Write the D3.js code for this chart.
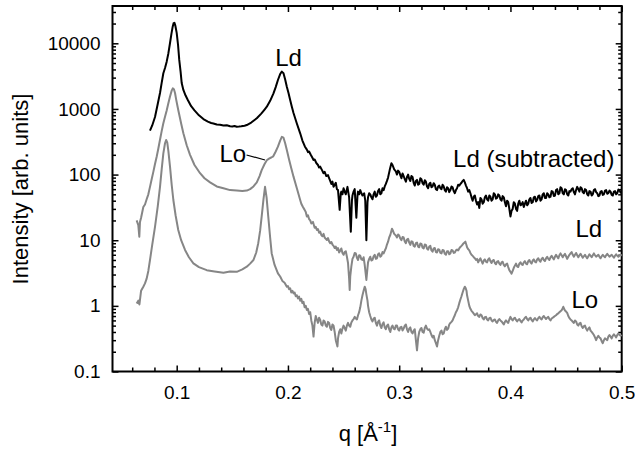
<!DOCTYPE html>
<html>
<head>
<meta charset="utf-8">
<script src="https://cdn.jsdelivr.net/npm/d3@7"></script>
<style>
  html, body { margin: 0; padding: 0; background: #fff; }
  svg { display: block; font-family: "Liberation Sans", Arial, sans-serif; }
</style>
</head>
<body>
<svg id="chart" width="635" height="456"></svg>
<script>
// ---------- data (q [1/Å], intensity) ----------
const ldSubtracted = [[0.076,466],[0.078,560],[0.0805,754],[0.083,1200],[0.085,1750],[0.0865,2500],[0.088,3500],[0.0895,4200],[0.091,5250],[0.0925,7000],[0.094,10100],[0.0953,14000],[0.0964,17900],[0.0972,20200],[0.098,20500],[0.0988,18500],[0.100,14400],[0.1012,9500],[0.1023,5580],[0.1035,3700],[0.1045,2480],[0.106,1950],[0.108,1600],[0.110,1370],[0.113,1100],[0.116,950],[0.120,800],[0.124,700],[0.128,640],[0.131,610],[0.133,600],[0.136,580],[0.139,575],[0.142,560],[0.145,565],[0.148,545],[0.150,540],[0.152,550],[0.154,536],[0.156,540],[0.158,545],[0.161,555],[0.163,569],[0.167,620],[0.170,680],[0.172,720],[0.176,850],[0.179,980],[0.181,1080],[0.184,1330],[0.187,1730],[0.189,2150],[0.191,2760],[0.193,3400],[0.1945,3700],[0.196,3500],[0.1975,2800],[0.199,2180],[0.2005,1750],[0.202,1370],[0.2035,1080],[0.205,867],[0.208,600],[0.211,425],[0.213,330],[0.2153,266],[0.217,240],[0.218,220],[0.219,225],[0.2205,200],[0.222,180],[0.223,167],[0.224,170],[0.2255,150],[0.227,140],[0.228,128],[0.229,132],[0.2305,118],[0.232,105],[0.233,110],[0.2345,95],[0.236,98],[0.237,88],[0.238,80],[0.239,72],[0.240,78],[0.241,65],[0.242,70],[0.243,75],[0.244,60],[0.245,58],[0.2465,29],[0.2475,52],[0.248,55],[0.249,50],[0.250,62],[0.251,55],[0.252,50],[0.2535,65],[0.255,45],[0.2565,13.5],[0.2575,40],[0.258,48],[0.259,55],[0.260,60],[0.2615,22],[0.2625,48],[0.263,55],[0.264,50],[0.265,58],[0.266,52],[0.267,48],[0.2685,52],[0.2695,40],[0.2705,10],[0.2715,38],[0.272,45],[0.273,52],[0.274,50],[0.275,45],[0.276,42],[0.277,50],[0.278,55],[0.279,46],[0.280,48],[0.281,56],[0.282,60],[0.283,50],[0.284,52],[0.285,62],[0.286,58],[0.287,66],[0.288,72],[0.289,80],[0.290,90],[0.2915,118],[0.293,149],[0.294,140],[0.2955,120],[0.297,112],[0.298,100],[0.299,115],[0.300,110],[0.301,98],[0.302,88],[0.303,104],[0.304,95],[0.305,85],[0.306,78],[0.307,92],[0.308,100],[0.309,86],[0.310,80],[0.311,95],[0.312,92],[0.313,75],[0.314,68],[0.315,80],[0.316,83],[0.317,70],[0.318,72],[0.319,88],[0.320,85],[0.321,74],[0.322,70],[0.323,82],[0.324,78],[0.325,66],[0.326,62],[0.327,72],[0.328,75],[0.329,64],[0.330,66],[0.331,74],[0.332,70],[0.333,60],[0.334,58],[0.335,66],[0.336,68],[0.337,62],[0.338,60],[0.339,70],[0.340,66],[0.341,58],[0.342,55],[0.343,64],[0.344,62],[0.345,54],[0.346,58],[0.347,66],[0.348,64],[0.349,56],[0.350,52],[0.351,58],[0.352,62],[0.353,70],[0.354,68],[0.355,72],[0.356,75],[0.357,80],[0.358,83],[0.359,76],[0.360,68],[0.361,62],[0.362,55],[0.363,58],[0.364,52],[0.365,45],[0.366,40],[0.367,46],[0.368,48],[0.369,40],[0.370,35],[0.371,38],[0.372,31],[0.373,44],[0.374,42],[0.375,36],[0.376,38],[0.377,45],[0.378,48],[0.379,42],[0.380,40],[0.381,48],[0.382,46],[0.383,40],[0.384,42],[0.385,52],[0.386,50],[0.387,43],[0.388,44],[0.389,50],[0.390,48],[0.391,42],[0.392,40],[0.393,47],[0.394,45],[0.395,38],[0.396,33],[0.397,40],[0.398,38],[0.399,30],[0.400,23],[0.401,28],[0.402,30],[0.403,38],[0.404,36],[0.405,30],[0.406,28],[0.407,36],[0.408,40],[0.409,34],[0.410,35],[0.411,38],[0.412,32],[0.413,36],[0.414,40],[0.415,34],[0.416,36],[0.417,42],[0.418,44],[0.419,37],[0.420,38],[0.421,45],[0.422,46],[0.423,39],[0.424,41],[0.425,47],[0.426,48],[0.427,40],[0.428,42],[0.429,50],[0.430,52],[0.431,44],[0.432,44],[0.433,52],[0.434,50],[0.435,45],[0.436,46],[0.437,56],[0.438,55],[0.439,47],[0.440,48],[0.441,58],[0.442,60],[0.443,50],[0.444,52],[0.445,64],[0.446,62],[0.447,52],[0.448,50],[0.449,60],[0.450,58],[0.451,50],[0.452,48],[0.453,56],[0.454,55],[0.455,60],[0.456,62],[0.457,54],[0.458,50],[0.459,58],[0.460,65],[0.461,60],[0.462,55],[0.463,64],[0.464,62],[0.465,54],[0.466,52],[0.467,60],[0.468,58],[0.469,50],[0.470,48],[0.471,56],[0.472,55],[0.473,48],[0.474,50],[0.475,58],[0.476,60],[0.477,54],[0.478,52],[0.479,47],[0.480,48],[0.481,55],[0.482,56],[0.483,49],[0.484,50],[0.485,57],[0.486,58],[0.487,51],[0.488,52],[0.489,57],[0.490,55],[0.491,49],[0.492,48],[0.493,55],[0.494,56],[0.495,50],[0.496,52],[0.497,59],[0.498,58],[0.499,53],[0.500,54]];

const ldRaw = [[0.064,20],[0.0655,17],[0.0664,11.3],[0.067,19],[0.068,22],[0.070,32],[0.0715,35],[0.073,42],[0.0745,50],[0.076,65],[0.0775,85],[0.079,110],[0.0805,145],[0.082,187],[0.0835,250],[0.085,340],[0.0865,460],[0.088,604],[0.0895,760],[0.091,950],[0.0925,1220],[0.094,1550],[0.0955,1900],[0.0965,2060],[0.0975,2000],[0.0985,1750],[0.0995,1400],[0.1005,1150],[0.1014,964],[0.103,720],[0.104,600],[0.106,425],[0.109,280],[0.112,200],[0.116,140],[0.121,105],[0.125,88],[0.130,76],[0.136,66],[0.142,62],[0.148,58],[0.154,57],[0.159,56],[0.163,57],[0.166,60],[0.169,66],[0.172,76],[0.1745,95],[0.1764,117],[0.179,145],[0.181,165],[0.183,175],[0.185,182],[0.1868,190],[0.189,225],[0.191,266],[0.193,330],[0.1945,375],[0.196,365],[0.1975,300],[0.199,237],[0.201,170],[0.203,125],[0.205,93],[0.208,62],[0.211,41],[0.212,36],[0.2135,32],[0.215,29],[0.216,27],[0.217,23],[0.218,24],[0.219,21],[0.220,20],[0.221,18],[0.2225,19],[0.224,15.5],[0.225,16],[0.226,14.3],[0.227,14.8],[0.228,13],[0.229,13.5],[0.230,12],[0.231,11.5],[0.232,12.5],[0.233,11],[0.234,10.5],[0.235,10.1],[0.236,10.8],[0.237,9.6],[0.238,9],[0.239,9.4],[0.240,8.6],[0.241,8.2],[0.242,7.6],[0.243,8.0],[0.244,7.1],[0.245,7.6],[0.246,6.5],[0.247,6.9],[0.248,7.5],[0.249,6.4],[0.250,6.0],[0.251,6.6],[0.252,6.8],[0.253,5.6],[0.254,4.5],[0.255,2.6],[0.2555,1.75],[0.256,2.8],[0.257,4.0],[0.258,5.2],[0.259,5.6],[0.260,6.4],[0.261,6.3],[0.262,5.4],[0.263,5.0],[0.264,5.9],[0.265,5.8],[0.266,5.1],[0.267,5.0],[0.268,5.5],[0.269,4.2],[0.2705,2.48],[0.2715,3.8],[0.272,4.6],[0.273,5.2],[0.274,5.6],[0.275,4.9],[0.276,5.0],[0.277,5.7],[0.278,6.0],[0.279,5.2],[0.280,5.3],[0.281,6.1],[0.282,6.3],[0.283,5.6],[0.284,5.8],[0.285,6.6],[0.286,6.3],[0.287,6.9],[0.288,7.5],[0.289,8.6],[0.290,9.5],[0.291,11],[0.292,12],[0.2935,15],[0.2945,13.8],[0.2955,12.5],[0.297,11.8],[0.298,11],[0.299,12.2],[0.300,11.8],[0.301,10.6],[0.302,10],[0.303,11.2],[0.304,11],[0.305,9.6],[0.306,9],[0.307,10.2],[0.308,10.5],[0.309,9.2],[0.310,8.5],[0.311,9.6],[0.312,9.5],[0.313,8.2],[0.314,8],[0.315,9.0],[0.316,9.2],[0.317,8.0],[0.318,7.8],[0.319,8.9],[0.320,8.8],[0.321,7.7],[0.322,7.5],[0.323,8.6],[0.324,8.5],[0.325,7.4],[0.326,7.2],[0.327,8.0],[0.328,8.2],[0.329,7.0],[0.330,6.7],[0.331,7.5],[0.332,7.6],[0.333,6.6],[0.334,6.5],[0.335,7.3],[0.336,7.2],[0.337,6.4],[0.338,6.3],[0.339,7.1],[0.340,7.0],[0.341,6.2],[0.342,6.0],[0.343,6.8],[0.344,6.8],[0.345,6.1],[0.346,6.3],[0.347,7.1],[0.348,7.0],[0.349,6.4],[0.350,6.5],[0.351,7.0],[0.352,7.2],[0.353,7.0],[0.354,7.5],[0.355,7.9],[0.356,8.2],[0.357,8.6],[0.358,9.0],[0.3595,9.5],[0.3605,8.4],[0.361,7.8],[0.362,7.3],[0.363,7.0],[0.364,6.4],[0.365,6.0],[0.366,5.8],[0.367,5.5],[0.368,5.3],[0.369,5.0],[0.370,5.2],[0.371,4.6],[0.372,5.0],[0.373,5.3],[0.374,4.8],[0.375,4.4],[0.376,4.9],[0.377,5.1],[0.378,4.7],[0.379,4.6],[0.380,5.1],[0.381,5.3],[0.382,4.8],[0.383,4.5],[0.384,4.9],[0.385,5.0],[0.386,4.5],[0.387,4.3],[0.388,4.7],[0.389,4.8],[0.390,4.4],[0.391,4.2],[0.392,4.6],[0.393,4.7],[0.394,4.2],[0.395,4.0],[0.396,4.3],[0.397,4.4],[0.398,3.9],[0.399,3.5],[0.400,3.3],[0.401,3.1],[0.402,3.4],[0.403,3.8],[0.404,4.1],[0.405,4.4],[0.406,4.0],[0.407,3.9],[0.408,4.4],[0.409,4.6],[0.410,4.3],[0.411,4.2],[0.412,4.6],[0.413,4.8],[0.414,4.4],[0.415,4.3],[0.416,4.8],[0.417,5.0],[0.418,4.6],[0.419,4.4],[0.420,4.9],[0.421,5.1],[0.422,4.7],[0.423,4.6],[0.424,5.1],[0.425,5.3],[0.426,4.9],[0.427,4.7],[0.428,5.2],[0.429,5.4],[0.430,5.0],[0.431,4.8],[0.432,5.3],[0.433,5.6],[0.434,5.2],[0.435,5.0],[0.436,5.5],[0.437,5.8],[0.438,5.4],[0.439,5.1],[0.440,5.6],[0.441,6.0],[0.442,5.6],[0.443,5.3],[0.444,5.9],[0.445,6.3],[0.446,5.9],[0.447,5.5],[0.448,5.9],[0.449,6.2],[0.450,5.7],[0.451,5.2],[0.452,5.6],[0.453,6.0],[0.454,6.3],[0.455,6.6],[0.456,6.0],[0.457,5.6],[0.458,6.0],[0.459,6.4],[0.460,5.9],[0.461,5.5],[0.462,5.9],[0.463,6.2],[0.464,5.8],[0.465,5.4],[0.466,5.7],[0.467,6.0],[0.468,5.6],[0.469,5.3],[0.470,5.7],[0.471,6.1],[0.472,5.8],[0.473,5.5],[0.474,5.9],[0.475,6.3],[0.476,5.9],[0.477,5.6],[0.478,5.8],[0.479,6.0],[0.480,5.6],[0.481,5.3],[0.482,5.7],[0.483,6.0],[0.484,5.7],[0.485,5.5],[0.486,5.9],[0.487,6.2],[0.488,5.9],[0.489,5.6],[0.490,5.8],[0.491,6.0],[0.492,5.7],[0.493,5.4],[0.494,5.8],[0.495,6.1],[0.496,5.8],[0.497,5.6],[0.498,5.8],[0.499,6.0],[0.500,5.8]];

const loRaw = [[0.064,1.09],[0.0655,1.2],[0.0665,1.05],[0.068,1.7],[0.070,1.96],[0.0715,2.2],[0.073,2.6],[0.0745,3.4],[0.076,5.0],[0.078,8.5],[0.0805,16],[0.083,33],[0.085,65],[0.0865,120],[0.088,211],[0.0895,300],[0.0905,336],[0.0915,310],[0.0925,230],[0.094,132],[0.0955,70],[0.097,41],[0.099,24],[0.1014,14.3],[0.104,10],[0.1075,7.1],[0.111,5.5],[0.115,4.45],[0.120,3.9],[0.127,3.5],[0.134,3.35],[0.142,3.2],[0.148,3.35],[0.154,3.3],[0.159,3.6],[0.163,3.95],[0.166,4.4],[0.169,5.0],[0.1715,6.5],[0.1733,9],[0.175,14],[0.1764,23],[0.178,42],[0.1794,65],[0.1808,45],[0.1823,23],[0.184,11],[0.1854,6.3],[0.188,4.2],[0.191,3.13],[0.193,2.8],[0.195,2.4],[0.197,2.25],[0.199,1.96],[0.200,2.0],[0.201,1.8],[0.202,1.85],[0.203,1.6],[0.204,1.7],[0.205,1.55],[0.206,1.6],[0.207,1.4],[0.208,1.45],[0.209,1.3],[0.210,1.38],[0.211,1.2],[0.212,1.28],[0.213,1.1],[0.214,1.15],[0.215,0.95],[0.216,1.0],[0.217,0.865],[0.218,0.9],[0.219,0.75],[0.220,0.8],[0.221,0.6],[0.222,0.5],[0.223,0.34],[0.224,0.55],[0.225,0.7],[0.226,0.62],[0.227,0.55],[0.228,0.66],[0.229,0.61],[0.230,0.52],[0.231,0.5],[0.232,0.6],[0.233,0.58],[0.234,0.5],[0.235,0.48],[0.236,0.57],[0.237,0.55],[0.238,0.46],[0.239,0.43],[0.240,0.52],[0.241,0.5],[0.242,0.4],[0.243,0.3],[0.2445,0.24],[0.245,0.32],[0.246,0.4],[0.247,0.44],[0.248,0.38],[0.249,0.45],[0.250,0.5],[0.251,0.46],[0.252,0.42],[0.253,0.5],[0.254,0.55],[0.255,0.5],[0.256,0.48],[0.257,0.56],[0.258,0.6],[0.259,0.63],[0.260,0.68],[0.261,0.64],[0.262,0.62],[0.263,0.72],[0.264,0.8],[0.265,0.95],[0.266,1.2],[0.267,1.45],[0.268,1.7],[0.269,1.96],[0.2698,1.8],[0.2705,1.5],[0.2715,1.2],[0.272,1.0],[0.273,0.8],[0.274,0.7],[0.275,0.62],[0.276,0.58],[0.277,0.64],[0.278,0.66],[0.279,0.55],[0.280,0.5],[0.281,0.57],[0.282,0.6],[0.283,0.5],[0.284,0.46],[0.285,0.53],[0.286,0.56],[0.287,0.47],[0.288,0.44],[0.289,0.5],[0.290,0.52],[0.291,0.44],[0.292,0.4],[0.293,0.47],[0.294,0.5],[0.295,0.45],[0.296,0.44],[0.297,0.5],[0.298,0.5],[0.299,0.44],[0.300,0.42],[0.301,0.47],[0.302,0.48],[0.303,0.42],[0.304,0.45],[0.305,0.5],[0.306,0.52],[0.307,0.44],[0.308,0.4],[0.309,0.45],[0.310,0.47],[0.311,0.4],[0.312,0.38],[0.313,0.42],[0.314,0.44],[0.315,0.3],[0.316,0.21],[0.317,0.32],[0.318,0.4],[0.319,0.44],[0.320,0.46],[0.321,0.4],[0.322,0.39],[0.323,0.46],[0.324,0.5],[0.325,0.45],[0.326,0.43],[0.327,0.44],[0.328,0.4],[0.329,0.36],[0.330,0.33],[0.331,0.35],[0.332,0.3],[0.333,0.27],[0.334,0.24],[0.335,0.3],[0.336,0.35],[0.337,0.4],[0.338,0.42],[0.339,0.37],[0.340,0.38],[0.341,0.44],[0.342,0.48],[0.343,0.43],[0.344,0.45],[0.345,0.52],[0.346,0.55],[0.347,0.57],[0.348,0.6],[0.349,0.66],[0.350,0.72],[0.351,0.8],[0.352,0.86],[0.353,0.95],[0.354,1.1],[0.355,1.25],[0.356,1.4],[0.357,1.6],[0.358,1.8],[0.359,1.96],[0.3598,1.85],[0.3605,1.7],[0.361,1.45],[0.362,1.2],[0.363,1.0],[0.364,0.9],[0.365,0.84],[0.366,0.8],[0.367,0.76],[0.368,0.72],[0.369,0.74],[0.370,0.77],[0.371,0.7],[0.372,0.68],[0.373,0.74],[0.374,0.72],[0.375,0.65],[0.376,0.62],[0.377,0.67],[0.378,0.68],[0.379,0.62],[0.380,0.6],[0.381,0.65],[0.382,0.66],[0.383,0.6],[0.384,0.58],[0.385,0.61],[0.386,0.62],[0.387,0.57],[0.388,0.55],[0.389,0.6],[0.390,0.63],[0.391,0.6],[0.392,0.58],[0.393,0.55],[0.394,0.52],[0.395,0.57],[0.396,0.6],[0.397,0.57],[0.398,0.55],[0.399,0.62],[0.400,0.68],[0.401,0.63],[0.402,0.6],[0.403,0.64],[0.404,0.66],[0.405,0.61],[0.406,0.58],[0.407,0.61],[0.408,0.63],[0.409,0.59],[0.410,0.56],[0.411,0.6],[0.412,0.62],[0.413,0.66],[0.414,0.68],[0.415,0.63],[0.416,0.6],[0.417,0.64],[0.418,0.66],[0.419,0.61],[0.420,0.58],[0.421,0.62],[0.422,0.65],[0.423,0.62],[0.424,0.6],[0.425,0.65],[0.426,0.68],[0.427,0.64],[0.428,0.62],[0.429,0.67],[0.430,0.7],[0.431,0.66],[0.432,0.63],[0.433,0.66],[0.434,0.68],[0.435,0.63],[0.436,0.6],[0.437,0.64],[0.438,0.66],[0.439,0.68],[0.440,0.7],[0.441,0.72],[0.442,0.75],[0.443,0.77],[0.444,0.8],[0.445,0.83],[0.446,0.86],[0.447,0.92],[0.4475,0.97],[0.448,0.92],[0.449,0.85],[0.450,0.82],[0.451,0.78],[0.452,0.7],[0.453,0.65],[0.454,0.62],[0.455,0.6],[0.456,0.57],[0.457,0.55],[0.458,0.6],[0.459,0.58],[0.460,0.52],[0.461,0.5],[0.462,0.54],[0.463,0.55],[0.464,0.49],[0.465,0.46],[0.466,0.49],[0.467,0.5],[0.468,0.45],[0.469,0.42],[0.470,0.45],[0.471,0.47],[0.472,0.42],[0.473,0.4],[0.474,0.38],[0.475,0.36],[0.476,0.33],[0.477,0.3],[0.478,0.33],[0.479,0.35],[0.480,0.33],[0.481,0.32],[0.482,0.29],[0.483,0.27],[0.484,0.3],[0.485,0.32],[0.486,0.31],[0.487,0.3],[0.488,0.34],[0.489,0.36],[0.490,0.34],[0.491,0.32],[0.492,0.35],[0.493,0.37],[0.494,0.35],[0.495,0.33],[0.496,0.36],[0.497,0.38],[0.498,0.36],[0.499,0.35],[0.500,0.36]];

const xTickValues = [0.1, 0.2, 0.3, 0.4, 0.5];
const xTickLabels = ["0.1", "0.2", "0.3", "0.4", "0.5"];
const xMinorValues = [0.06,0.08,0.12,0.14,0.16,0.18,0.22,0.24,0.26,0.28,0.32,0.34,0.36,0.38,0.42,0.44,0.46,0.48];
const yTickValues = [0.1, 1, 10, 100, 1000, 10000];
const yTickLabels = ["0.1", "1", "10", "100", "1000", "10000"];

const xTitle = "q [Å";
const xTitleSup = "-1";
const yTitle = "Intensity [arb. units]";

// ---------- layout ----------
const L = 112.5, R = 621.7, T = 6, B = 371.5;
const x = d3.scaleLinear().domain([0.0423, 0.5]).range([L, R]);
const y = d3.scaleLog().domain([0.1, 37000]).range([B, T]);

const svg = d3.select("#chart");
const gray = "#868686";

const yMinorValues = [];
yTickValues.forEach(d => { for (let k = 2; k <= 9; k++) { const v = d * k; if (v <= 37000) yMinorValues.push(v); } });

function styleAxis(g) {
  g.select(".domain").remove();
  g.selectAll(".tick line").attr("stroke", "#000").attr("stroke-width", 1.5);
  g.selectAll("text").attr("fill", "#000").style("font-size", "19px");
}

svg.append("g").attr("transform", `translate(0,${B})`)
  .call(d3.axisBottom(x).tickValues(xTickValues).tickFormat((d, i) => xTickLabels[i]).tickSize(-6).tickPadding(14))
  .call(styleAxis);
svg.append("g").attr("transform", `translate(0,${B})`)
  .call(d3.axisBottom(x).tickValues(xMinorValues).tickFormat("").tickSize(-4))
  .call(styleAxis);
svg.append("g").attr("transform", `translate(0,${T})`)
  .call(d3.axisTop(x).tickValues(xTickValues).tickFormat("").tickSize(-6))
  .call(styleAxis);
svg.append("g").attr("transform", `translate(0,${T})`)
  .call(d3.axisTop(x).tickValues(xMinorValues).tickFormat("").tickSize(-4))
  .call(styleAxis);
svg.append("g").attr("transform", `translate(${L},0)`)
  .call(d3.axisLeft(y).tickValues(yTickValues).tickFormat((d, i) => yTickLabels[i]).tickSize(-6).tickPadding(12))
  .call(styleAxis);
svg.append("g").attr("transform", `translate(${L},0)`)
  .call(d3.axisLeft(y).tickValues(yMinorValues).tickFormat("").tickSize(-3.5))
  .call(styleAxis);
svg.append("g").attr("transform", `translate(${R},0)`)
  .call(d3.axisRight(y).tickValues(yTickValues).tickFormat("").tickSize(-6))
  .call(styleAxis);
svg.append("g").attr("transform", `translate(${R},0)`)
  .call(d3.axisRight(y).tickValues(yMinorValues).tickFormat("").tickSize(-3.5))
  .call(styleAxis);

svg.append("rect").attr("x", L).attr("y", T).attr("width", R - L).attr("height", B - T)
  .attr("fill", "none").attr("stroke", "#000").attr("stroke-width", 2);

const line = d3.line().x(d => x(d[0])).y(d => y(d[1]));
const series = [
  { data: loRaw, color: gray },
  { data: ldRaw, color: gray },
  { data: ldSubtracted, color: "#000" }
];
series.forEach(s => {
  svg.append("path").datum(s.data).attr("d", line)
    .attr("fill", "none").attr("stroke", s.color).attr("stroke-width", 2)
    .attr("stroke-linejoin", "round");
});

const lab = svg.append("g").style("font-size", "24px").attr("fill", "#000");
lab.append("text").attr("x", x(0.4935)).attr("y", y(130)).attr("text-anchor", "end").text("Ld (subtracted)");
lab.append("text").attr("x", x(0.1885)).attr("y", y(4500)).text("Ld");
lab.append("text").attr("x", x(0.4585)).attr("y", y(11.2)).text("Ld");
lab.append("text").attr("x", x(0.4548)).attr("y", y(0.93)).text("Lo");
lab.append("text").attr("x", x(0.1625)).attr("y", y(156)).attr("text-anchor", "end").text("Lo");
svg.append("line").attr("x1", x(0.1628)).attr("y1", y(199)).attr("x2", x(0.1794)).attr("y2", y(167))
  .attr("stroke", "#000").attr("stroke-width", 1.2);

const xt = svg.append("text").attr("x", 368).attr("y", 441).attr("text-anchor", "middle")
  .style("font-size", "22px").attr("fill", "#000");
xt.append("tspan").text(xTitle);
xt.append("tspan").attr("dy", -9).style("font-size", "15px").text(xTitleSup);
xt.append("tspan").attr("dy", 9).text("]");

svg.append("text").attr("transform", "translate(28,189) rotate(-90)").attr("text-anchor", "middle")
  .style("font-size", "22px").attr("fill", "#000").text(yTitle);
</script>
</body>
</html>
